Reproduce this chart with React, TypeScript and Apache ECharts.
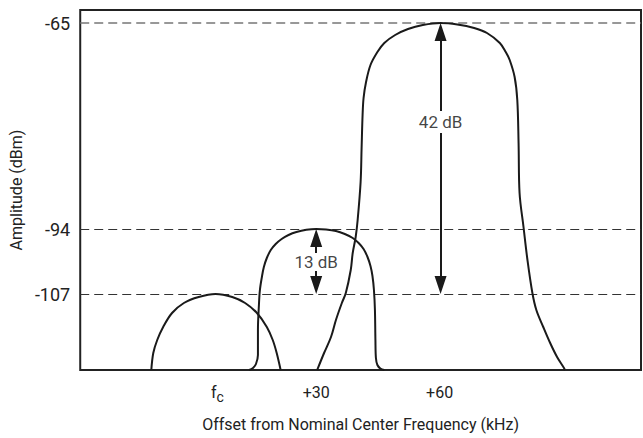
import React, { useEffect, useRef } from 'react';
import * as echarts from 'echarts';

// Axis ticks (schematic, non-linear axes: values are display positions)
const xTickValues = [0, 100, 225];
const xTickLabels = ['{f|f}{c|c}', '+30', '+60'];
const yTickValues = [76, 141, 347];
const yTickLabels = ['-107', '-94', '-65'];
const refLineColors = ['#333', '#333', '#777'];

// Channel responses [x, level]
const lowerChannel = [
  [-67, 0], [-65, 17], [-61, 30], [-55, 43], [-46, 57], [-34, 67], [-19, 73], [-2, 76],
  [15, 73], [28, 67], [40, 57], [50, 43], [56, 30], [60, 17], [64, 0],
];
const tunedChannel = [
  [32, 0], [36, 2], [39, 6], [41, 15], [41, 40], [42, 65], [43, 80], [45, 93], [47, 103],
  [50, 112], [54, 120], [59, 126], [65, 131], [72, 135], [80, 138], [90, 140.2], [100, 141],
  [110, 140.5], [120, 139], [129, 136], [137, 132], [143, 127], [148, 121], [152, 113],
  [155, 104], [157, 94], [158.5, 80], [159.5, 60], [160, 30], [160.5, 12], [162, 5],
  [165, 1.5], [169, 0],
];
const upperChannel = [
  [101, 0], [108, 17], [115, 33], [120, 50], [126, 67], [130, 77], [135, 100], [137, 117],
  [140, 133], [142, 150], [145, 188], [146, 222], [147, 255], [148, 272], [150.5, 288],
  [155, 305], [162, 318], [169, 327], [180, 335], [193, 341], [208, 345], [226, 347],
  [243, 345.5], [260, 342], [273, 337], [286, 327], [292, 318], [296, 310], [301, 293],
  [303.7, 270], [305, 227], [306, 177], [310, 143], [314, 110], [319, 77], [323, 60],
  [330, 43], [337, 27], [344, 13], [351, 2], [352, 0],
];

// dB difference annotations
const arrowLabels = ['42 dB', '13 dB'];
const arrowX = [226, 100];
const arrowTop = [347, 141];
const arrowBottom = [76, 76];
const arrowLabelLevel = [248, 108];
const arrowGapHalf = [11, 9];

const FONT = 'Roboto, "Noto Sans", "DejaVu Sans", sans-serif';
const INK = '#1a1a1a';
const HEAD = 18;

export default function App() {
  const ref = useRef<HTMLDivElement>(null);
  useEffect(() => {
    if (!ref.current) return;
    const chart = echarts.init(ref.current, null, { renderer: 'svg' });
    const curve = (data: number[][]) => ({
      type: 'line',
      data,
      symbol: 'none',
      showSymbol: false,
      smooth: 0.35,
      clip: true,
      lineStyle: { color: INK, width: 2 },
      z: 3,
      silent: true,
    });
    const arrowSegments: any[] = [];
    arrowX.forEach((x, i) => {
      arrowSegments.push([
        { coord: [x, arrowLabelLevel[i] + arrowGapHalf[i]] },
        { coord: [x, arrowTop[i] - HEAD / 2] },
      ]);
      arrowSegments.push([
        { coord: [x, arrowLabelLevel[i] - arrowGapHalf[i]] },
        { coord: [x, arrowBottom[i] + HEAD / 2] },
      ]);
    });
    chart.setOption({
      animation: false,
      grid: {
        left: 73, right: 2, top: 10, bottom: 68,
        show: true, borderColor: '#222', borderWidth: 2,
      },
      xAxis: {
        type: 'value', min: -139, max: 429,
        axisLine: { show: false }, axisTick: { show: false }, splitLine: { show: false },
        name: 'Offset from Nominal Center Frequency (kHz)',
        nameLocation: 'middle', nameGap: 46,
        nameTextStyle: { fontSize: 16, color: '#222', fontFamily: FONT },
        axisLabel: {
          customValues: xTickValues,
          formatter: (v: number) => {
            const i = xTickValues.indexOf(v);
            return i >= 0 ? xTickLabels[i] : '';
          },
          margin: 14, fontSize: 16, color: '#222', fontFamily: FONT,
          rich: {
            f: { fontSize: 16, color: '#222', fontFamily: FONT, lineHeight: 20, verticalAlign: 'top' },
            c: { fontSize: 14, color: '#222', fontFamily: FONT, lineHeight: 20, verticalAlign: 'top', padding: [6, 0, 0, 0] },
          },
        },
      },
      yAxis: {
        type: 'value', min: 0, max: 360,
        axisLine: { show: false }, axisTick: { show: false }, splitLine: { show: false },
        name: 'Amplitude (dBm)', nameLocation: 'middle', nameGap: 40,
        nameTextStyle: { fontSize: 16, color: '#222', fontFamily: FONT },
        axisLabel: {
          customValues: yTickValues,
          formatter: (v: number) => {
            const i = yTickValues.indexOf(v);
            return i >= 0 ? yTickLabels[i] : '';
          },
          margin: 10, fontSize: 18, color: '#222', fontFamily: FONT,
        },
      },
      series: [
        {
          type: 'line', data: [], symbol: 'none', silent: true,
          markLine: {
            silent: true, symbol: ['none', 'none'], z: 1,
            label: { show: false },
            lineStyle: { type: [9, 5], color: '#333', width: 1 },
            data: yTickValues.map((v, i) => ({
              yAxis: v,
              lineStyle: { color: refLineColors[i], type: [9, 5], width: i === 2 ? 1.5 : 1 },
            })),
          },
        },
        curve(lowerChannel),
        curve(tunedChannel),
        curve(upperChannel),
        {
          type: 'scatter', z: 10, silent: true,
          data: arrowX.map((x, i) => [x, arrowLabelLevel[i]]),
          symbolSize: 1, itemStyle: { color: 'rgba(0,0,0,0)' },
          label: {
            show: true, position: 'inside',
            formatter: (p: any) => arrowLabels[p.dataIndex],
            color: '#111', fontSize: 17, fontFamily: FONT,
          },
          markLine: {
            silent: true, z: 4,
            symbol: ['none', 'triangle'], symbolSize: [12, HEAD],
            label: { show: false },
            lineStyle: { color: INK, width: 2, type: 'solid' },
            itemStyle: { color: INK },
            data: arrowSegments,
          },
        },
      ],
    });
    return () => chart.dispose();
  }, []);
  return (
    <div
      ref={ref}
      style={{ position: 'absolute', left: 0, top: 0, width: 643, height: 438, background: '#fff' }}
    />
  );
}
